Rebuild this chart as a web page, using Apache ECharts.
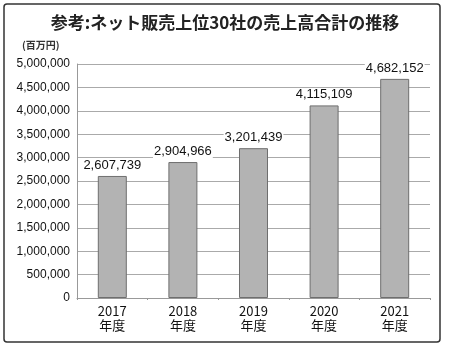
<!DOCTYPE html>
<html><head><meta charset="utf-8">
<script src="https://cdn.jsdelivr.net/npm/echarts@6/dist/echarts.min.js"></script>
<style>html,body{margin:0;padding:0;background:#fff}#c{width:450px;height:352px}</style>
</head><body><div id="c"></div>
<script>
const categories = ['2017\n年度','2018\n年度','2019\n年度','2020\n年度','2021\n年度'];
const values = [2607739, 2904966, 3201439, 4115109, 4682152];
const title = '参考:ネット販売上位30社の売上高合計の推移';
const unitLabel = '(百万円)';
const yMax = 5000000, yStep = 500000;

const chart = echarts.init(document.getElementById('c'), null, {renderer:'canvas'});
const fmt = v => v.toLocaleString('en-US');
chart.setOption({
  animation:false,
  backgroundColor:'#fff',
  title:{text:title,left:'center',top:9,textStyle:{fontSize:17,fontWeight:'bold',color:'#222',fontFamily:'Noto Sans CJK JP'}},
  graphic:[
    {type:'rect',shape:{x:4,y:4,width:436,height:338,r:3},style:{fill:'none',stroke:'#333',lineWidth:1.5},z:-1},
    {type:'text',left:22,top:40,style:{text:unitLabel,fontSize:10,fontWeight:'bold',fill:'#333',fontFamily:'Noto Sans CJK JP'}}
  ],
  grid:{left:77,right:20,top:64,bottom:54,containLabel:false},
  xAxis:{type:'category',data:categories,
    axisLine:{lineStyle:{color:'#999'}},
    axisTick:{show:true,length:2,lineStyle:{color:'#999'}},
    axisLabel:{fontSize:13,lineHeight:14,color:'#111',margin:6,fontFamily:'Noto Sans CJK JP'}},
  yAxis:{type:'value',min:0,max:yMax,interval:yStep,
    axisLine:{show:true,lineStyle:{color:'#999'}},
    axisTick:{show:false},
    splitLine:{lineStyle:{color:'#aaa'}},
    axisLabel:{fontSize:12,color:'#111',margin:7,formatter:fmt,fontFamily:'Liberation Sans Narrow, Liberation Sans'}},
  series:[{type:'bar',data:values,barWidth:29,
    itemStyle:{color:'#b3b3b3',borderColor:'#6e6e6e',borderWidth:1},
    label:{show:true,position:'top',distance:4,formatter:p=>fmt(p.value),fontSize:13,color:'#111',backgroundColor:'#fff',padding:[0,1],fontFamily:'Liberation Sans Narrow, Liberation Sans'}}]
});
</script></body></html>
